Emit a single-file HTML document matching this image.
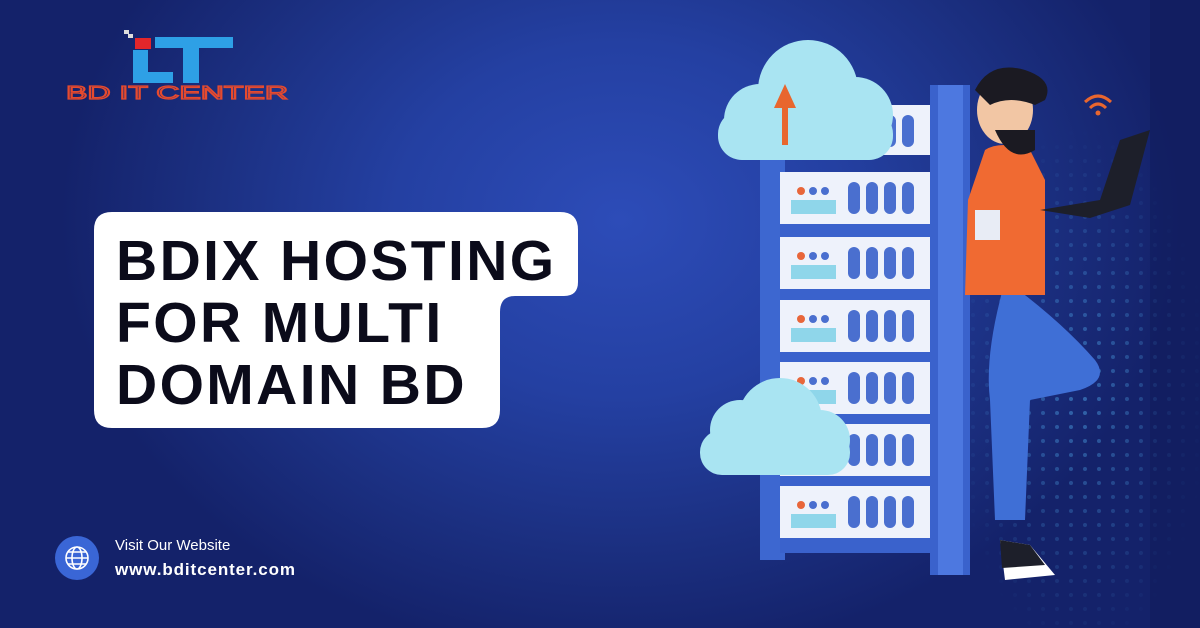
<!DOCTYPE html>
<html><head><meta charset="utf-8"><style>
html,body{margin:0;padding:0}
body{width:1200px;height:628px;overflow:hidden;position:relative;font-family:"Liberation Sans",sans-serif;
background:radial-gradient(ellipse 560px 440px at 620px 220px,#2d4cb8 0%,#2440a2 40%,#1b2f80 75%,#14226a 100%);}
.t{position:absolute;left:116px;font-weight:bold;font-size:57px;color:#0b0b1a;letter-spacing:2.4px;line-height:62px;white-space:nowrap}
</style></head><body>
<svg width="1200" height="628" style="position:absolute;left:0;top:0">
<defs>
<pattern id="dp" width="14" height="14" patternUnits="userSpaceOnUse"><circle cx="7" cy="7" r="2" fill="#5ac0ff"/></pattern>
<radialGradient id="fade" cx="0.5" cy="0.55" r="0.5"><stop offset="0" stop-color="#fff" stop-opacity="0.6"/><stop offset="1" stop-color="#fff" stop-opacity="0"/></radialGradient>
<mask id="m"><rect x="950" y="100" width="260" height="528" fill="url(#fade)"/></mask>
</defs>
<rect x="950" y="100" width="260" height="528" fill="url(#dp)" mask="url(#m)" opacity="0.7"/>
<rect x="1150" y="0" width="50" height="628" fill="#0f1a55" opacity="0.4"/>
<!-- logo -->
<rect x="135" y="38" width="16" height="11" fill="#e3262b"/>
<rect x="124" y="30" width="5" height="4" fill="#ddd"/><rect x="128" y="34" width="5" height="4" fill="#ddd"/>
<rect x="133" y="50" width="15" height="33" fill="#2ea0e6"/><rect x="133" y="72" width="40" height="11" fill="#2ea0e6"/>
<rect x="155" y="37" width="78" height="11" fill="#2ea0e6"/><rect x="183" y="37" width="16" height="46" fill="#2ea0e6"/>
<text x="66" y="99" font-size="18" fill="none" stroke="#e64a2e" stroke-width="1.3" font-family="Liberation Sans" textLength="222" lengthAdjust="spacingAndGlyphs">BD IT CENTER</text>
<!-- text box -->
<path d="M112 212 H560 Q578 212 578 230 V282 Q578 296 564 296 H515 Q500 296 500 312 V410 Q500 428 482 428 H112 Q94 428 94 410 V230 Q94 212 112 212Z" fill="#fff"/>
<!-- rack -->
<rect x="760" y="100" width="25" height="460" fill="#3d67d0"/>
<rect x="930" y="85" width="40" height="490" fill="#3a62cc"/>
<rect x="938" y="85" width="25" height="490" fill="#4d78e0"/>
<rect x="780" y="105" width="150" height="50" fill="#eef2fb"/>
<g fill="#eef2fb">
<rect x="780" y="172" width="150" height="52"/><rect x="780" y="237" width="150" height="52"/>
<rect x="780" y="300" width="150" height="52"/><rect x="780" y="362" width="150" height="52"/>
<rect x="780" y="424" width="150" height="52"/><rect x="780" y="486" width="150" height="52"/>
</g>
<g fill="#3a62cc">
<rect x="780" y="224" width="150" height="13"/><rect x="780" y="289" width="150" height="11"/><rect x="780" y="352" width="150" height="10"/><rect x="780" y="414" width="150" height="10"/><rect x="780" y="476" width="150" height="10"/><rect x="780" y="538" width="150" height="15"/>
</g>
<g fill="#4a6fcf"><rect x="848" y="115" width="12" height="32" rx="6"/><rect x="866" y="115" width="12" height="32" rx="6"/><rect x="884" y="115" width="12" height="32" rx="6"/><rect x="902" y="115" width="12" height="32" rx="6"/></g>
<g id="u">
<circle cx="801" cy="191" r="4" fill="#e8663a"/><circle cx="813" cy="191" r="4" fill="#4a6fcf"/><circle cx="825" cy="191" r="4" fill="#4a6fcf"/>
<rect x="791" y="200" width="45" height="14" fill="#8fd6ea"/>
<rect x="848" y="182" width="12" height="32" rx="6" fill="#4a6fcf"/><rect x="866" y="182" width="12" height="32" rx="6" fill="#4a6fcf"/><rect x="884" y="182" width="12" height="32" rx="6" fill="#4a6fcf"/><rect x="902" y="182" width="12" height="32" rx="6" fill="#4a6fcf"/>
</g>
<use href="#u" y="65"/><use href="#u" y="128"/><use href="#u" y="190"/><use href="#u" y="252"/><use href="#u" y="314"/>
<!-- clouds -->
<g fill="#a9e4f2">
<circle cx="760" cy="120" r="36"/><circle cx="808" cy="90" r="50"/><circle cx="855" cy="115" r="38"/><rect x="718" y="110" width="175" height="50" rx="24"/>
<circle cx="740" cy="430" r="30"/><circle cx="780" cy="420" r="42"/><circle cx="820" cy="440" r="30"/><rect x="700" y="430" width="150" height="45" rx="22"/>
</g>
<path d="M782 145 V108 H774 L785 84 L796 108 H788 V145Z" fill="#e8662e"/>
<!-- person -->
<path d="M1005 280 Q1060 320 1095 360 Q1110 380 1080 390 L1030 400 L1025 520 L995 520 L990 400 Q985 360 1000 300Z" fill="#3f6fd6"/>
<path d="M985 150 Q1000 140 1030 150 L1045 180 L1045 295 L965 295 L968 200Z" fill="#f06a32"/>
<rect x="975" y="210" width="25" height="30" fill="#e8ecf5"/>
<ellipse cx="1005" cy="110" rx="28" ry="34" fill="#f2c6a4"/>
<path d="M975 90 Q990 60 1025 70 Q1055 80 1045 100 L1035 105 Q1010 95 990 105Z" fill="#1b1a22"/>
<path d="M995 130 Q1010 165 1035 150 L1035 130Z" fill="#1b1a22"/>
<path d="M1040 210 L1100 200 L1120 140 L1150 130 L1130 205 L1090 218Z" fill="#1d1f2a"/>
<path d="M1000 540 L1030 545 L1055 575 L1005 580Z" fill="#fff"/>
<path d="M1000 540 L1030 545 L1045 565 L1002 568Z" fill="#1d1f2a"/>
<path d="M1085 102 Q1098 90 1111 102" stroke="#e8662e" stroke-width="3" fill="none"/><path d="M1090 108 Q1098 100 1106 108" stroke="#e8662e" stroke-width="3" fill="none"/><circle cx="1098" cy="113" r="2.5" fill="#e8662e"/>
<!-- globe -->
<circle cx="77" cy="558" r="22" fill="#3a66d6"/>
<g stroke="#fff" stroke-width="1.6" fill="none"><circle cx="77" cy="558" r="11"/><ellipse cx="77" cy="558" rx="5" ry="11"/><line x1="66" y1="558" x2="88" y2="558"/><line x1="68" y1="552" x2="86" y2="552"/><line x1="68" y1="564" x2="86" y2="564"/></g>
</svg>
<div class="t" style="top:230px">BDIX HOSTING</div>
<div class="t" style="top:292px">FOR MULTI</div>
<div class="t" style="top:354px">DOMAIN BD</div>
<div style="position:absolute;left:115px;top:537px;color:#fff;font-size:15px">Visit Our Website</div>
<div style="position:absolute;left:115px;top:560px;color:#fff;font-size:17px;font-weight:bold;letter-spacing:0.9px">www.bditcenter.com</div>
</body></html>
